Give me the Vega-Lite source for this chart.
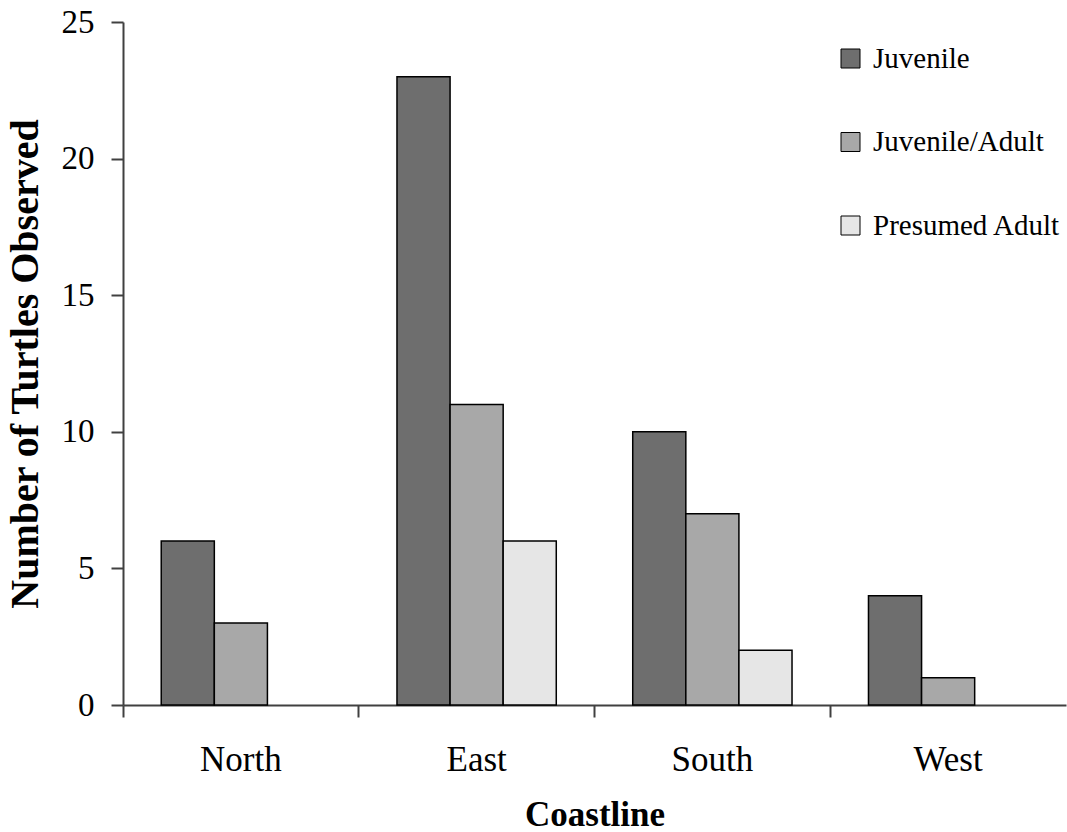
{
  "$schema": "https://vega.github.io/schema/vega-lite/v6.json",
  "width": 943,
  "height": 683,
  "autosize": {"type": "none"},
  "padding": {"left": 123, "top": 22, "right": 1, "bottom": 127},
  "background": "white",
  "config": {"view": {"stroke": null}, "font": "Liberation Serif"},
  "data": {
    "values": [
      {"coast": "North", "stage": "Juvenile", "count": 6},
      {"coast": "North", "stage": "Juvenile/Adult", "count": 3},
      {"coast": "East", "stage": "Juvenile", "count": 23},
      {"coast": "East", "stage": "Juvenile/Adult", "count": 11},
      {"coast": "East", "stage": "Presumed Adult", "count": 6},
      {"coast": "South", "stage": "Juvenile", "count": 10},
      {"coast": "South", "stage": "Juvenile/Adult", "count": 7},
      {"coast": "South", "stage": "Presumed Adult", "count": 2},
      {"coast": "West", "stage": "Juvenile", "count": 4},
      {"coast": "West", "stage": "Juvenile/Adult", "count": 1}
    ]
  },
  "mark": {"type": "bar", "stroke": "black", "strokeWidth": 1.5},
  "encoding": {
    "x": {
      "field": "coast",
      "type": "nominal",
      "sort": ["North", "East", "South", "West"],
      "scale": {"paddingInner": 0, "paddingOuter": 0},
      "axis": {
        "title": "Coastline",
        "titleFontSize": 35,
        "titleFontWeight": "bold",
        "titleColor": "black",
        "titlePadding": 20,
        "bandPosition": 0,
        "labelAngle": 0,
        "labelFontSize": 35,
        "labelColor": "black",
        "labelPadding": 25,
        "tickSize": 12,
        "tickWidth": 2,
        "tickColor": "#404040",
        "domainColor": "#404040",
        "domainWidth": 2,
        "grid": false
      }
    },
    "xOffset": {
      "field": "stage",
      "sort": ["Juvenile", "Juvenile/Adult", "Presumed Adult"],
      "scale": {"paddingInner": 0, "paddingOuter": 0.72}
    },
    "y": {
      "field": "count",
      "type": "quantitative",
      "scale": {"domain": [0, 25]},
      "axis": {
        "title": "Number of Turtles Observed",
        "titleFontSize": 40,
        "titleFontWeight": "bold",
        "titleColor": "black",
        "titlePadding": 16,
        "values": [0, 5, 10, 15, 20, 25],
        "labelFontSize": 33,
        "labelColor": "black",
        "labelPadding": 17,
        "tickSize": 12,
        "tickWidth": 2,
        "tickColor": "#404040",
        "domainColor": "#404040",
        "domainWidth": 2,
        "grid": false
      }
    },
    "color": {
      "field": "stage",
      "type": "nominal",
      "sort": ["Juvenile", "Juvenile/Adult", "Presumed Adult"],
      "scale": {
        "domain": ["Juvenile", "Juvenile/Adult", "Presumed Adult"],
        "range": ["#6e6e6e", "#a8a8a8", "#e6e6e6"]
      },
      "legend": {
        "title": null,
        "orient": "none",
        "legendX": 713,
        "legendY": 22,
        "symbolType": "square",
        "symbolSize": 361,
        "symbolStrokeColor": "black",
        "symbolStrokeWidth": 1,
        "symbolOpacity": 1,
        "labelFontSize": 29,
        "labelColor": "black",
        "labelOffset": 8,
        "labelLimit": 400,
        "rowPadding": 53.5
      }
    }
  }
}
